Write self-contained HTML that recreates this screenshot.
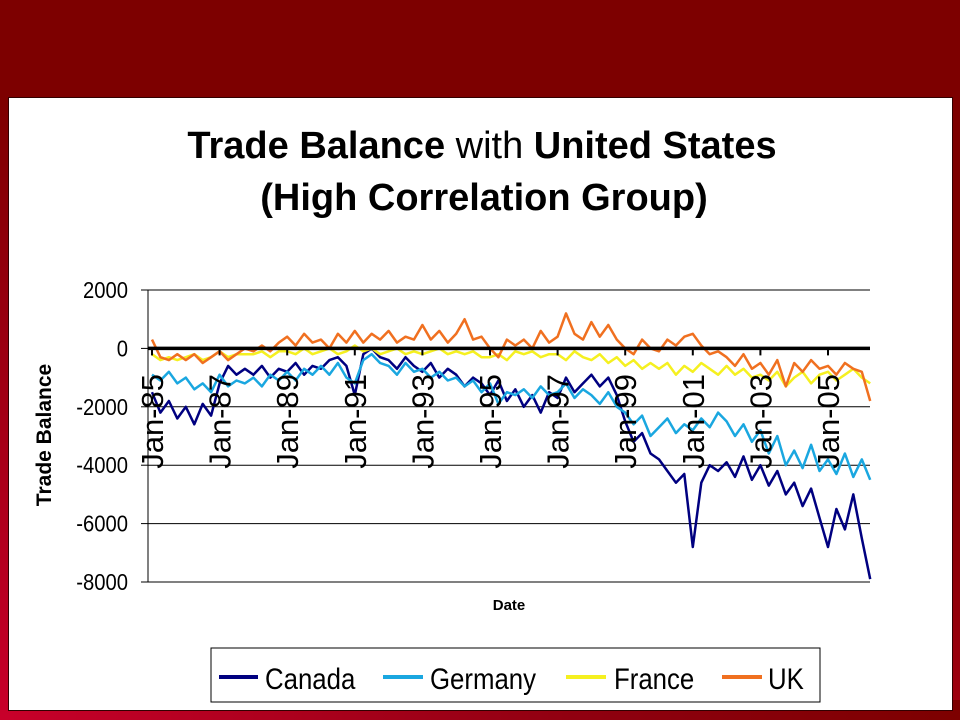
<!DOCTYPE html>
<html><head><meta charset="utf-8"><style>
html,body{margin:0;padding:0}
body{width:960px;height:720px;overflow:hidden;position:relative;background:linear-gradient(to bottom,#7d0000 0%,#7d0000 60%,#a00010 100%);}
#bottom{position:absolute;left:0;top:700px;width:960px;height:20px;background:linear-gradient(to right,#c8002a,#900010 60%,#7d0000);}
#leftbar{position:absolute;left:0;top:97px;width:10px;height:623px;background:linear-gradient(to bottom,#7d0000,#c8002a);}
#panel{position:absolute;left:8px;top:97px;width:943px;height:612px;background:#fff;border:1px solid #300;}
svg{position:absolute;left:0;top:0}
text{font-family:"Liberation Sans",sans-serif}
</style></head><body>
<div id="bottom"></div>
<div id="leftbar"></div>
<div id="panel"></div>
<svg id="chart" width="960" height="720">
<text x="482" y="158" text-anchor="middle" font-size="38" font-weight="bold">Trade Balance <tspan font-weight="normal">with</tspan> United States</text>
<text x="484" y="210" text-anchor="middle" font-size="38" font-weight="bold">(High Correlation Group)</text>
<text transform="translate(51,435) rotate(-90)" text-anchor="middle" font-size="21" font-weight="bold">Trade Balance</text>
<text x="509" y="610" text-anchor="middle" font-size="15" font-weight="bold">Date</text>
<g id="grid"></g><g id="series"></g><g id="axes"></g>
<rect x="211" y="648" width="609" height="54" fill="#fff" stroke="#000" stroke-width="1"/>
<g><line x1="219" y1="677" x2="258" y2="677" stroke="#000080" stroke-width="4"/><text x="265" y="689" font-size="30" transform="translate(265,0) scale(0.86,1) translate(-265,0)">Canada</text></g>
<g><line x1="383" y1="677" x2="423" y2="677" stroke="#1aa7e0" stroke-width="4"/><text x="430" y="689" font-size="30" transform="translate(430,0) scale(0.86,1) translate(-430,0)">Germany</text></g>
<g><line x1="566" y1="677" x2="606" y2="677" stroke="#f5f020" stroke-width="4"/><text x="614" y="689" font-size="30" transform="translate(614,0) scale(0.86,1) translate(-614,0)">France</text></g>
<g><line x1="722" y1="677" x2="762" y2="677" stroke="#f07020" stroke-width="4"/><text x="768" y="689" font-size="30" transform="translate(768,0) scale(0.86,1) translate(-768,0)">UK</text></g>
</svg>
<script>
const yTicks=[2000,0,-2000,-4000,-6000,-8000];
const xLabels=["Jan-85","Jan-87","Jan-89","Jan-91","Jan-93","Jan-95","Jan-97","Jan-99","Jan-01","Jan-03","Jan-05"];
const xLabelYears=[1985,1987,1989,1991,1993,1995,1997,1999,2001,2003,2005];
const startYear=1985;
const canada=[-1500,-2200,-1800,-2400,-2000,-2600,-1900,-2300,-1200,-600,-900,-700,-900,-600,-1000,-700,-800,-500,-900,-600,-700,-400,-300,-600,-1600,-200,0,-300,-400,-700,-300,-600,-800,-500,-1000,-700,-900,-1300,-1000,-1200,-1600,-1100,-1800,-1400,-2000,-1600,-2200,-1500,-1700,-1000,-1500,-1200,-900,-1300,-1000,-1600,-2500,-3200,-2900,-3600,-3800,-4200,-4600,-4300,-6800,-4600,-4000,-4200,-3900,-4400,-3700,-4500,-4000,-4700,-4200,-5000,-4600,-5400,-4800,-5800,-6800,-5500,-6200,-5000,-6500,-7900];
const germany=[-900,-1100,-800,-1200,-1000,-1400,-1200,-1500,-900,-1300,-1100,-1200,-1000,-1300,-900,-1100,-800,-1100,-700,-900,-600,-900,-500,-1000,-1200,-400,-200,-500,-600,-900,-500,-800,-700,-1000,-800,-1100,-1000,-1300,-1100,-1500,-1200,-1900,-1500,-1600,-1400,-1700,-1300,-1600,-1500,-1200,-1700,-1400,-1600,-1900,-1500,-2000,-2200,-2600,-2300,-3000,-2700,-2400,-2900,-2600,-2800,-2400,-2700,-2200,-2500,-3000,-2600,-3200,-2800,-3600,-3000,-4000,-3500,-4100,-3300,-4200,-3800,-4300,-3600,-4400,-3800,-4500];
const france=[-200,-400,-300,-400,-300,-200,-400,-300,-100,-300,-200,-200,-200,-100,-300,-100,-100,-200,0,-200,-100,0,-200,-100,100,-100,0,-200,-100,0,-200,-100,-200,-100,0,-200,-100,-200,-100,-300,-300,-200,-400,-100,-200,-100,-300,-200,-200,-400,-100,-300,-400,-200,-500,-300,-600,-400,-700,-500,-700,-500,-900,-600,-800,-500,-700,-900,-600,-900,-700,-1000,-900,-1100,-800,-1300,-1000,-800,-1200,-900,-800,-1100,-900,-700,-1000,-1200];
const uk=[300,-300,-400,-200,-400,-200,-500,-300,-100,-400,-200,0,-100,100,-100,200,400,100,500,200,300,0,500,200,600,200,500,300,600,200,400,300,800,300,600,200,500,1000,300,400,0,-300,300,100,300,0,600,200,400,1200,500,300,900,400,800,300,0,-200,300,0,-100,300,100,400,500,100,-200,-100,-300,-600,-200,-700,-500,-900,-400,-1300,-500,-800,-400,-700,-600,-900,-500,-700,-800,-1800];
const X0=148,X1=870,Y0=290,Y1=582,VMAX=2000,VMIN=-8000,JAN85=152,PXYR=33.8;
const yS=v=>Y0+(VMAX-v)/(VMAX-VMIN)*(Y1-Y0);
const xS=yr=>JAN85+(yr-startYear)*PXYR;
const NS="http://www.w3.org/2000/svg";
const mk=(t,a,p)=>{const e=document.createElementNS(NS,t);for(const k in a)e.setAttribute(k,a[k]);p.appendChild(e);return e;};
const grid=document.getElementById('grid'),axes=document.getElementById('axes'),ser=document.getElementById('series');
yTicks.forEach(v=>{
  const l=mk('line',{x1:X0,x2:X1,y1:yS(v),y2:yS(v),stroke:'#000','stroke-width':1},grid);
  
  
  const tk=mk('line',{x1:X0-7,x2:X0,y1:yS(v),y2:yS(v),stroke:'#000'},axes);
  
  
  const t=mk('text',{x:128,y:yS(v)+8,'text-anchor':'end','font-size':23,transform:`translate(128,0) scale(0.88,1) translate(-128,0)`},axes);
  t.textContent=v;
  
  
});
const ax=mk('line',{x1:X0,x2:X0,y1:Y0,y2:Y1,stroke:'#000'},axes);


const cols=[['canada',canada,'#000080'],['germany',germany,'#1aa7e0'],['france',france,'#f5f020'],['uk',uk,'#f07020']];
cols.forEach(([n,arr,c])=>{
  const pts=arr.map((v,i)=>xS(startYear+i*0.25).toFixed(1)+','+yS(v).toFixed(1)).join(' ');
  const p=mk('polyline',{points:pts,fill:'none',stroke:c,'stroke-width':2.5,'stroke-linejoin':'round'},ser);
  
  
});
const z=mk('line',{x1:X0,x2:X1,y1:yS(0),y2:yS(0),stroke:'#000','stroke-width':3.5},axes);


xLabels.forEach((lab,i)=>{
  const x=xS(xLabelYears[i]);
  const tk=mk('line',{x1:x,x2:x,y1:yS(0),y2:yS(0)+7,stroke:'#000','stroke-width':2},axes);
  
  
  const t=mk('text',{transform:`translate(${x+11},374) rotate(-90)`,'text-anchor':'end','font-size':31},axes);
  t.textContent=lab;
  
  
});
</script>
</body></html>
